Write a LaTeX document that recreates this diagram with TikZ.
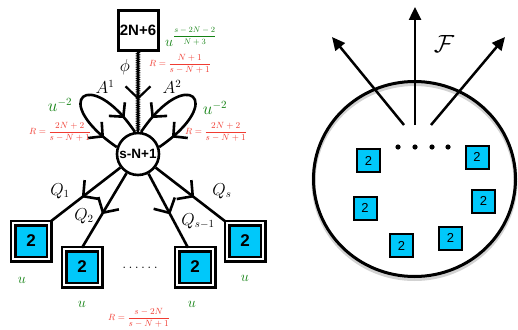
\documentclass[tikz,border=0pt]{standalone}
\usepackage{amsmath}
\usepackage{fontspec}
\setsansfont{Liberation Sans}
\usetikzlibrary{arrows.meta,decorations.markings,decorations.pathmorphing}
\definecolor{boxcyan}{RGB}{0,200,250}
\definecolor{ugreen}{RGB}{20,130,20}
\definecolor{rred}{RGB}{240,60,50}

\tikzstyle{gauge}=[draw,line width=3pt,minimum size=40pt,inner sep=0pt,font=\fontsize{15}{15}\selectfont\sffamily\bfseries]
\tikzstyle{colour}=[circle,draw,line width=2.6pt,minimum size=42pt,inner sep=0pt,font=\fontsize{13.5}{13.5}\selectfont\sffamily\bfseries]
\tikzstyle{flavor}=[draw,double=white,double distance=2pt,line width=2.5pt,fill=boxcyan,minimum size=36pt,inner sep=0pt,font=\fontsize{17}{17}\selectfont\sffamily\bfseries]
\tikzstyle{small flavor}=[draw,line width=2pt,fill=boxcyan,minimum size=23pt,inner sep=0pt,font=\fontsize{13}{13}\selectfont\sffamily]
\tikzstyle{edge} = [draw,line width=2.6pt]
\tikzstyle{chain} = [draw,line width=1.2pt,decorate,decoration={zigzag,amplitude=1.1pt,segment length=1.8pt}]
\tikzstyle{phi edge} = [draw,line width=2.2pt,postaction={decorate},decoration={markings,mark=at position .6 with {\arrow{Straight Barb[length=12pt,width=25pt]}}}]
\tikzstyle{q edge} = [edge,postaction={decorate},decoration={markings,mark=at position .55 with {\arrow{Straight Barb[length=11pt,width=24pt]}}}]
\tikzstyle{adj edge} = [edge,postaction={decorate},decoration={markings,
  mark=at position .13 with {\arrowreversed{Straight Barb[length=10pt,width=21pt]}},
  mark=at position .88 with {\arrow{Straight Barb[length=10pt,width=21pt]}}}]
\tikzstyle{out arrow} = [draw,line width=2.5pt,-{Triangle[length=13pt,width=12pt]}]
\tikzstyle{ulab}=[text=ugreen,font=\fontsize{15}{15}\selectfont]
\tikzstyle{rlab}=[text=rred,font=\fontsize{9}{9}\selectfont]
\tikzstyle{field}=[font=\fontsize{16}{16}\selectfont]

\begin{document}
\begin{tikzpicture}[x=1pt,y=-1pt]
			\useasboundingbox (0,0) rectangle (518,329);
			% quiver on the left
			\node[gauge] (top) at (138,30.5) {2N+6};
			\node[colour] (c) at (138,154) {s-N+1};
			\node[flavor] (q1) at (31,241) {2};
			\node[flavor] (q2) at (82,267) {2};
			\node[flavor] (qsm) at (195,267) {2};
			\node[flavor] (qs) at (245,241) {2};
			\path[phi edge] (top) -- (c);
			\path[chain] (top) -- (c);
			\path[adj edge] (c.98) .. controls (90,65) and (48,100) .. (c.162);
			\path[adj edge] (c.82) .. controls (186,65) and (228,100) .. (c.18);
			\path[q edge] (c) -- (q1.north east);
			\path[q edge] (c) -- (q2.north);
			\path[q edge] (c) -- ([xshift=-7pt]qsm.north);
			\path[q edge] (c) -- (qs.north west);
			% labels
			\node[ulab] (uphi) at (191,37) {$u^{\mbox{\fontsize{8.5}{8.5}\selectfont$\dfrac{s-2N-2}{N+3}$}}$};
			\node[rlab] (rphi) at (180,64) {$R=\dfrac{N+1}{s-N+1}$};
			\node[field] (phi) at (125,67) {$\phi$};
			\node[field] (a1) at (105,87) {$A^1$};
			\node[field] (a2) at (172,87) {$A^2$};
			\node[ulab,font=\fontsize{16}{16}\selectfont] (ua1) at (60,105) {$u^{-2}$};
			\node[ulab,font=\fontsize{16}{16}\selectfont] (ua2) at (215,108) {$u^{-2}$};
			\node[rlab] (ra1) at (60,132) {$R=\dfrac{2N+2}{s-N+1}$};
			\node[rlab] (ra2) at (216,132) {$R=\dfrac{2N+2}{s-N+1}$};
			\node[field] (lq1) at (60,191) {$Q_1$};
			\node[field] (lq2) at (84,216) {$Q_2$};
			\node[field] (lqsm) at (198,221) {$Q_{s-1}$};
			\node[field] (lqs) at (222,191) {$Q_s$};
			\node[ulab] (u1) at (22,280) {$u$};
			\node[ulab] (u2) at (82,304) {$u$};
			\node[ulab] (usm) at (192,304) {$u$};
			\node[ulab] (us) at (245,278) {$u$};
			\node[font=\fontsize{14}{14}\selectfont] (dots) at (140,268) {$\ldots\ldots$};
			\node[rlab] (rq) at (139,318) {$R=\dfrac{s-2N}{s-N+1}$};
			% blob on the right
			\draw[gray!35,line width=4pt] (414.5,181.5) ellipse [x radius=101,y radius=97.5];
			\draw[line width=3pt] (414.5,179) ellipse [x radius=101,y radius=97.5];
			\coordinate (o1) at (404,125);
			\coordinate (o2) at (415,125);
			\coordinate (o3) at (431,125);
			\coordinate (e1) at (332,37);
			\coordinate (e2) at (415,7);
			\coordinate (e3) at (505,37);
			\foreach \source/ \dest in {o1/e1,o2/e2,o3/e3}
				\path[out arrow] (\source) -- (\dest);
			\node[font=\fontsize{27}{27}\selectfont] (f) at (444,44) {$\mathcal{F}$};
			\foreach \x in {398,415,432,448}
				\fill (\x,147) circle (2.6);
			\foreach \n/\x/\y in {a/368.5/160.5,b/477/157,c/365/208,d/483.5/201,e/401.5/245.5,f/450.5/238}
				\node[small flavor] (s\n) at (\x,\y) {2};
		\end{tikzpicture}
\end{document}
